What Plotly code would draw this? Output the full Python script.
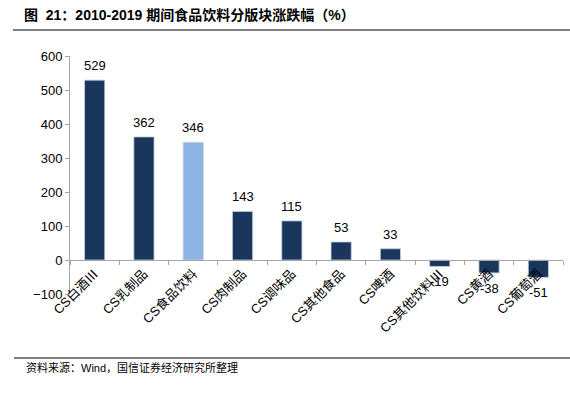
import plotly.graph_objects as go

categories = ["CS白酒Ⅲ", "CS乳制品", "CS食品饮料", "CS肉制品", "CS调味品",
              "CS其他食品", "CS啤酒", "CS其他饮料Ⅲ", "CS黄酒", "CS葡萄酒"]
values = [529, 362, 346, 143, 115, 53, 33, -19, -38, -51]
highlight = "CS食品饮料"
y_ticks = [-100, 0, 100, 200, 300, 400, 500, 600]

DARK = "#1B365D"
LIGHT = "#8DB4E2"
colors = [LIGHT if c == highlight else DARK for c in categories]
FONT = "Liberation Sans, Arial, Noto Sans CJK SC, sans-serif"

fig = go.Figure()
fig.add_trace(go.Bar(
    x=categories, y=values,
    marker=dict(color=colors, line=dict(color="#C8D2DC", width=0.8)),
    cliponaxis=False,
    width=0.41,
))

label_annotations = [
    dict(x=c, y=v, xref="x", yref="y", text=str(v), showarrow=False,
         yanchor="bottom" if v >= 0 else "top",
         yshift=5 if v >= 0 else -6,
         font=dict(family=FONT, size=13, color="#000000"))
    for c, v in zip(categories, values)
]

fig.update_layout(
    width=570, height=399,
    margin=dict(l=70, r=7, t=56, b=105, autoexpand=False),
    paper_bgcolor="white", plot_bgcolor="white",
    showlegend=False,
    font=dict(family=FONT, size=13, color="#000000"),
    xaxis=dict(
        type="category",
        anchor="free", position=100 / 700,
        automargin=False,
        showline=True, linecolor="#A6A6A6", linewidth=1,
        ticks="outside", ticklen=4, tickcolor="#A6A6A6",
        tickson="boundaries",
        tickangle=-45,
        tickfont=dict(family=FONT, size=13, color="#000000"),
        showgrid=False, zeroline=False,
    ),
    yaxis=dict(
        range=[-100, 600],
        tickvals=y_ticks,
        automargin=False,
        showline=True, linecolor="#A6A6A6", linewidth=1,
        ticks="outside", ticklen=4, tickcolor="#A6A6A6",
        tickfont=dict(family=FONT, size=13, color="#000000"),
        showgrid=False, zeroline=False,
    ),
    shapes=[
        dict(type="line", xref="paper", yref="paper",
             x0=-57 / 493, x1=1 + 7 / 493, y0=(399 - 30 - 105) / 238, y1=(399 - 30 - 105) / 238,
             line=dict(color="#000000", width=1.2)),
        dict(type="line", xref="paper", yref="paper",
             x0=-56 / 493, x1=1 + 7 / 493, y0=(399 - 358 - 105) / 238, y1=(399 - 358 - 105) / 238,
             line=dict(color="#000000", width=1.2)),
    ],
    annotations=label_annotations + [
        dict(text="<b>图  21：2010-2019 期间食品饮料分版块涨跌幅（%）</b>",
             xref="paper", yref="paper",
             x=-48 / 493, y=(399 - 15 - 105) / 238,
             xanchor="left", yanchor="middle", showarrow=False,
             font=dict(family="Liberation Sans, Noto Sans CJK SC", size=14, color="#000000")),
        dict(text="资料来源：Wind，国信证券经济研究所整理",
             xref="paper", yref="paper",
             x=-46 / 493, y=(399 - 367 - 105) / 238,
             xanchor="left", yanchor="middle", showarrow=False,
             font=dict(family="Liberation Sans, Noto Sans CJK SC", size=11, color="#000000")),
    ],
)

fig.write_html("out.html",
               config={"displayModeBar": False},
               post_script="document.body.style.margin='0';document.body.style.overflow='hidden';")
